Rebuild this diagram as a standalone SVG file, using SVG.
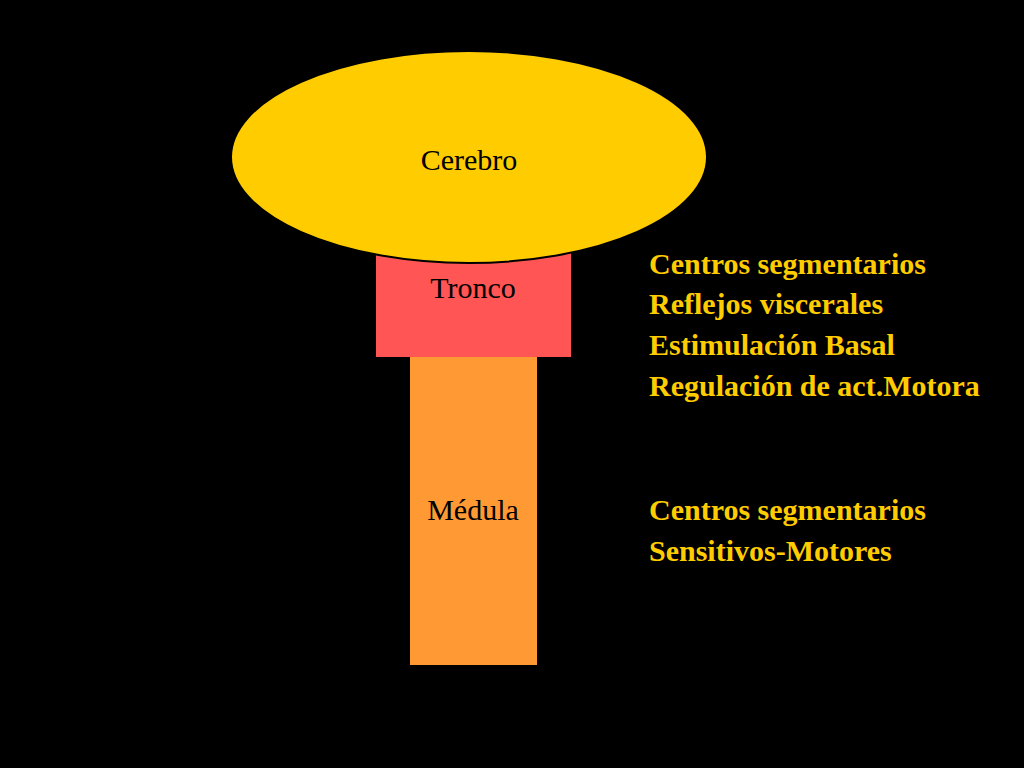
<svg xmlns="http://www.w3.org/2000/svg" width="1024" height="768" viewBox="0 0 1024 768">
<style>
.n{font-family:"Liberation Serif",serif;font-size:30px;fill:#000}
.y{font-family:"Liberation Serif",serif;font-size:30px;font-weight:bold;fill:#FFCC00}
</style>
<rect width="1024" height="768" fill="#000"/>
<g id="medula"><rect x="410" y="356" width="127" height="309" fill="#FF9933"/><text class="n" x="473" y="520" text-anchor="middle">Médula</text></g>
<g id="tronco"><rect x="376" y="240" width="195" height="117" fill="#FF5555"/><text class="n" x="473" y="298" text-anchor="middle">Tronco</text></g>
<g id="cerebro"><ellipse cx="469" cy="157" rx="238" ry="106" fill="#FFCC00" stroke="#000" stroke-width="2"/><text class="n" x="469" y="170" text-anchor="middle">Cerebro</text></g>
<g id="t1"><text class="y" x="649" y="274">Centros segmentarios</text><text class="y" x="649" y="314">Reflejos viscerales</text><text class="y" x="649" y="355">Estimulación Basal</text><text class="y" x="649" y="396">Regulación de act.Motora</text></g>
<g id="t2"><text class="y" x="649" y="520">Centros segmentarios</text><text class="y" x="649" y="561">Sensitivos-Motores</text></g>
<g id="connectors"/>
</svg>
